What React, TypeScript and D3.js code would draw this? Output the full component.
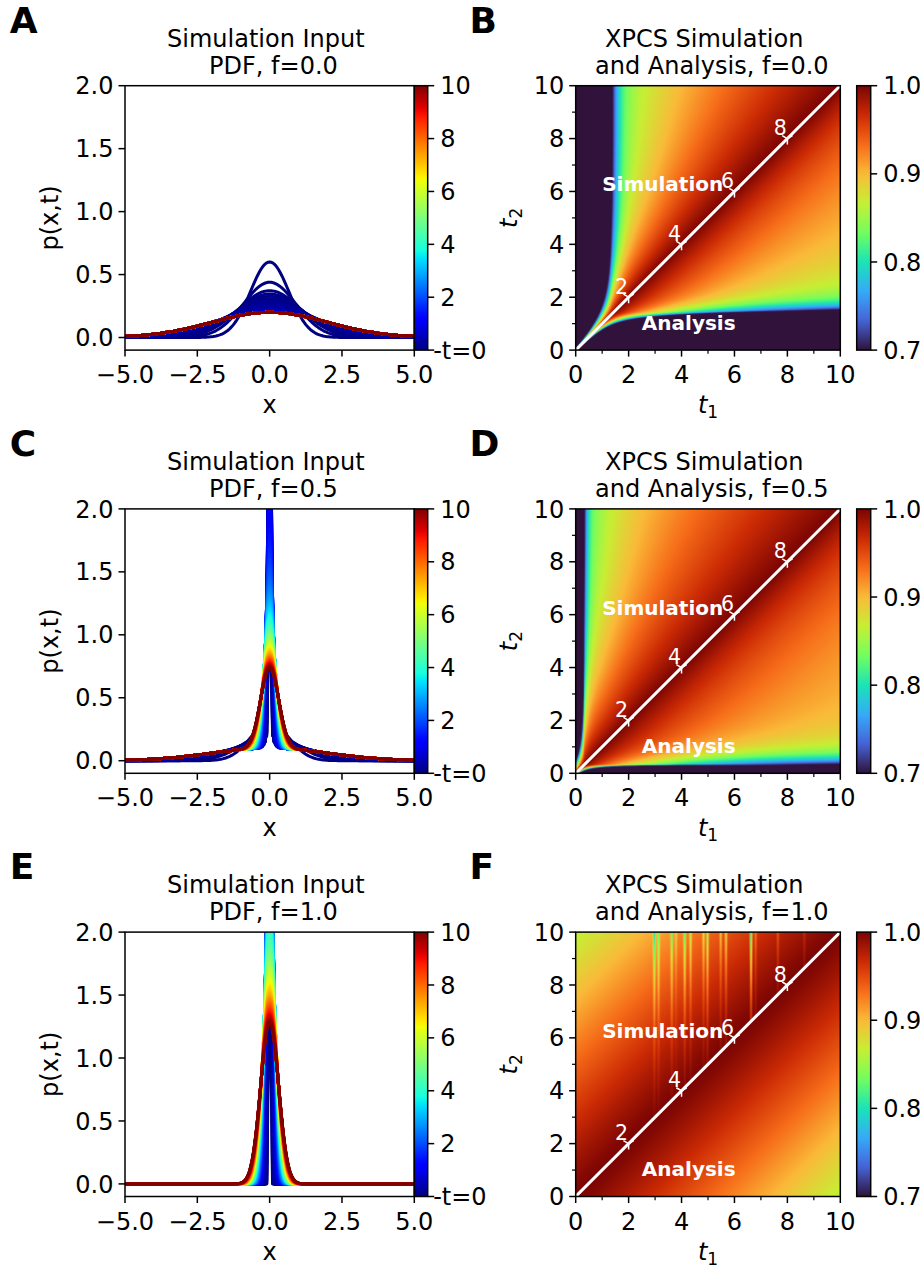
import React, { useMemo } from "react";
import * as d3 from "d3";

// ---------------- data ----------------
const FRACTIONS = [0.0, 0.5, 1.0];
const PDF_LETTERS = ["A", "C", "E"];
const MAP_LETTERS = ["B", "D", "F"];

const PDF_X_TICKS = [-5, -2.5, 0, 2.5, 5];
const PDF_Y_TICKS = [0, 0.5, 1.0, 1.5, 2.0];
const TIME_BAR_TICKS = [0, 2, 4, 6, 8, 10];
const TIME_BAR_LABELS = ["-t=0", "2", "4", "6", "8", "10"];
const MAP_TICKS = [0, 2, 4, 6, 8, 10];
const MAP_MINOR_TICKS = [1, 3, 5, 7, 9];
const CORR_TICKS = [0.7, 0.8, 0.9, 1.0];
const DIAGONAL_MARKS = [2, 4, 6, 8];

// broad (mobile) component: peak height of the Gaussian during the early relaxation
const BROAD_TIMES = [0, 0.02, 0.04, 0.06, 0.08, 0.1, 0.12, 0.15, 0.2, 0.25, 0.3, 0.4, 0.5, 0.6, 0.8];
const BROAD_PEAKS = [0.6, 0.439, 0.372, 0.346, 0.327, 0.309, 0.293, 0.278, 0.262, 0.248, 0.236, 0.222, 0.212, 0.206, 0.202];
const BROAD_PEAK_EQ = 0.2; // equilibrium peak reached after t ~ 1
const LATE_TIMES = d3.range(1, 10.0001, 0.1);
// narrow (trapped) component: variance grows linearly in time
const NARROW_VAR0 = 0.0004;
const NARROW_VAR_RATE = 0.0096;
const X_GRID = d3.range(-5, 5.0001, 0.05);

// two-time correlation model, one entry per row (upper = t2 > t1, lower = t2 < t1)
// 1 - C = M(s) * (1 - exp(-(d/tau)^p)),  s = min(t1,t2), d = |t2 - t1|
type Region = {
  c: number; mInf: number; h: number; w: number; a: number; L: number; k: number; k2: number;
  alpha: number; tau0: number; shift: number; beta: number; p: number;
};
const MAP_UPPER: Region[] = [
  { c: 1.36, mInf: 0.1, h: 0.15, w: 0.25, a: 0.07, L: 2.0, k: 0.97, k2: 0.17, alpha: 0.7, tau0: 0.5, shift: 0, beta: 0, p: 1 },
  { c: 0.33, mInf: 0.105, h: 0.13, w: 0.12, a: 0.08, L: 1.5, k: 4.25, k2: 0, alpha: 0.7, tau0: 2.5, shift: 0, beta: 0, p: 1 },
  { c: 0, mInf: 1, h: 0, w: 1, a: 0, L: 1, k: 0, k2: 0, alpha: 0, tau0: 52, shift: 0, beta: 0, p: 1.16 },
];
const MAP_LOWER: Region[] = [
  { c: 1.42, mInf: 0.115, h: 0.15, w: 0.25, a: 0.07, L: 1.5, k: 1.18, k2: 8.1, alpha: 0, tau0: 3.5, shift: 0, beta: 0.012, p: 1 },
  { c: 0.33, mInf: 0.11, h: 0.17, w: 0.3, a: 0.06, L: 1.0, k: 6.7, k2: 60, alpha: 0, tau0: 3.9, shift: 0, beta: 0, p: 1 },
  { c: 0, mInf: 1, h: 0, w: 1, a: 0, L: 1, k: 0, k2: 0, alpha: 0, tau0: 52, shift: 0, beta: 0, p: 1.16 },
];
// vertical artefact streaks in the f=1.0 simulation half
const STREAK_T1 = [2.97, 3.13, 3.63, 3.79, 4.12, 4.34, 4.83, 4.98, 5.48, 5.68, 6.63, 6.8, 7.64, 8.64];
const STREAK_DEPTH = [0.13, 0.1, 0.11, 0.04, 0.12, 0.08, 0.07, 0.11, 0.06, 0.08, 0.17, 0.04, 0.035, 0.02];
const STREAK_ROWS = [false, false, true];

// ---------------- layout ----------------
const ROW_STEP = 423.2;
const AX_TOP = 85.7;
const AX_BOTTOM = 350.1;
const PDF_X0 = 125;
const PDF_X1 = 414.3;
const TBAR_X0 = 414.3;
const TBAR_X1 = 427.7;
const MAP_X0 = 575.7;
const MAP_X1 = 840.3;
const CBAR_X0 = 856.7;
const CBAR_X1 = 870.7;
const FS = 24;
const FONT = "DejaVu Sans";
const TICK = 6.5;
const MINOR = 3.7;

// ---------------- colour maps ----------------
function seg(pts: number[][], v: number) {
  for (let i = 1; i < pts.length; i++) {
    if (v <= pts[i][0]) {
      const [x0, y0] = pts[i - 1];
      const [x1, y1] = pts[i];
      return y0 + ((v - x0) / (x1 - x0)) * (y1 - y0);
    }
  }
  return pts[pts.length - 1][1];
}
const JET_R = [[0, 0], [0.35, 0], [0.66, 1], [0.89, 1], [1, 0.5]];
const JET_G = [[0, 0], [0.125, 0], [0.375, 1], [0.64, 1], [0.91, 0], [1, 0]];
const JET_B = [[0, 0.5], [0.11, 1], [0.34, 1], [0.65, 0], [1, 0]];
function jet(v: number) {
  const t = Math.max(0, Math.min(1, v));
  return d3.rgb(255 * seg(JET_R, t), 255 * seg(JET_G, t), 255 * seg(JET_B, t)).formatHex();
}
const TURBO_ANCHORS = ["#30123b", "#4662d7", "#36aaf9", "#1ae4b6", "#72fe5e", "#c7ef34", "#faba39", "#f66b19", "#cb2a04", "#7a0403"];
const turbo = d3
  .scaleLinear<string>()
  .domain(TURBO_ANCHORS.map((_, i) => i / (TURBO_ANCHORS.length - 1)))
  .range(TURBO_ANCHORS)
  .interpolate(d3.interpolateRgb)
  .clamp(true);
const TURBO_LUT = d3.range(256).map((i) => d3.rgb(turbo(i / 255)));

// ---------------- models ----------------
function gaussian(x: number, v: number) {
  return Math.exp((-x * x) / (2 * v)) / Math.sqrt(2 * Math.PI * v);
}
const TIME_STEPS = [
  ...BROAD_TIMES.map((t, i) => ({ t, broadPeak: BROAD_PEAKS[i] })),
  ...LATE_TIMES.map((t) => ({ t, broadPeak: BROAD_PEAK_EQ })),
];
function pdfValue(x: number, t: number, broadPeak: number, f: number) {
  const vb = 1 / (2 * Math.PI * broadPeak * broadPeak);
  const vn = NARROW_VAR0 + NARROW_VAR_RATE * t;
  return (1 - f) * gaussian(x, vb) + f * gaussian(x, vn);
}

function corrValue(t1: number, t2: number, row: number) {
  const upper = t2 >= t1;
  const q = upper ? MAP_UPPER[row] : MAP_LOWER[row];
  const s = Math.min(t1, t2);
  const d = Math.abs(t2 - t1);
  const se = s + q.shift - q.beta * d;
  let m: number;
  if (se >= q.c) {
    m = q.mInf + q.h * Math.exp(-(se - q.c) / q.w) + q.a * Math.exp(-(se - q.c) / q.L);
  } else {
    const u = q.c - se;
    m = q.mInf + q.h + q.a + q.k * u + q.k2 * u * u;
  }
  const tau = q.alpha * s + q.tau0;
  let v = 1 - m * (1 - Math.exp(-Math.pow(d / tau, q.p)));
  if (upper && STREAK_ROWS[row]) {
    for (let i = 0; i < STREAK_T1.length; i++) {
      const dx = (t1 - STREAK_T1[i]) / 0.04;
      if (Math.abs(dx) < 4) {
        v -= STREAK_DEPTH[i] * Math.exp(-dx * dx) * Math.exp(-(10 - t2) / 2.3);
      }
    }
  }
  return v;
}

function corrImage(row: number, n: number) {
  const canvas = document.createElement("canvas");
  canvas.width = n;
  canvas.height = n;
  const ctx = canvas.getContext("2d");
  if (!ctx) return "";
  const img = ctx.createImageData(n, n);
  for (let j = 0; j < n; j++) {
    const t2 = 10 * (1 - (j + 0.5) / n);
    for (let i = 0; i < n; i++) {
      const t1 = (10 * (i + 0.5)) / n;
      const v = corrValue(t1, t2, row);
      const u = Math.max(0, Math.min(1, (v - 0.7) / 0.3));
      const c = TURBO_LUT[Math.round(u * 255)];
      const k = 4 * (j * n + i);
      img.data[k] = c.r;
      img.data[k + 1] = c.g;
      img.data[k + 2] = c.b;
      img.data[k + 3] = 255;
    }
  }
  ctx.putImageData(img, 0, 0);
  return canvas.toDataURL("image/png");
}

// ---------------- panels ----------------
function PdfPanel({ row }: { row: number }) {
  const f = FRACTIONS[row];
  const oy = row * ROW_STEP;
  const y0 = AX_TOP + oy;
  const y1 = AX_BOTTOM + oy;
  const x = d3.scaleLinear().domain([-5, 5]).range([PDF_X0, PDF_X1]);
  const y = d3.scaleLinear().domain([-0.1, 2.0]).range([y1, y0]);
  const tb = d3.scaleLinear().domain([0, 10]).range([y1, y0]);
  const curves = useMemo(
    () =>
      TIME_STEPS.map(({ t, broadPeak }) => {
        const l = d3
          .line<number>()
          .x((xx) => x(xx))
          .y((xx) => y(Math.min(pdfValue(xx, t, broadPeak, f), 50)));
        return { t, d: l(X_GRID) || "" };
      }),
    [row]
  );
  const clipId = `pdfclip${row}`;
  const gradId = `jetgrad${row}`;
  const fmt = d3.format(".1f");
  const cx = (PDF_X0 + PDF_X1) / 2;
  return (
    <g>
      <text x={9.7} y={33 + oy} fontSize={36} fontWeight="bold">{PDF_LETTERS[row]}</text>
      <text x={cx - 3.8} y={46.7 + oy} fontSize={FS} textAnchor="middle">Simulation Input</text>
      <text x={cx + 3.8} y={73.5 + oy} fontSize={FS} textAnchor="middle">{`PDF, f=${f.toFixed(1)}`}</text>
      <defs>
        <clipPath id={clipId}>
          <rect x={PDF_X0} y={y0} width={PDF_X1 - PDF_X0} height={y1 - y0} />
        </clipPath>
        <linearGradient id={gradId} x1="0" y1="1" x2="0" y2="0">
          {d3.range(0, 1.0001, 0.02).map((v) => (
            <stop key={v} offset={v} stopColor={jet(v)} />
          ))}
        </linearGradient>
      </defs>
      <g clipPath={`url(#${clipId})`}>
        {curves.map((c) => (
          <path key={c.t} d={c.d} fill="none" stroke={jet(c.t / 10)} strokeWidth={3} strokeLinejoin="round" />
        ))}
      </g>
      <rect x={PDF_X0} y={y0} width={PDF_X1 - PDF_X0} height={y1 - y0} fill="none" stroke="#000" strokeWidth={1.5} />
      {PDF_X_TICKS.map((v) => (
        <g key={v}>
          <line x1={x(v)} x2={x(v)} y1={y1} y2={y1 + TICK} stroke="#000" strokeWidth={1.5} />
          <text x={x(v)} y={y1 + 33} fontSize={FS} textAnchor="middle">{fmt(v)}</text>
        </g>
      ))}
      {PDF_Y_TICKS.map((v) => (
        <g key={v}>
          <line x1={PDF_X0 - TICK} x2={PDF_X0} y1={y(v)} y2={y(v)} stroke="#000" strokeWidth={1.5} />
          <text x={PDF_X0 - 11.5} y={y(v) + 8.6} fontSize={FS} textAnchor="end">{fmt(v)}</text>
        </g>
      ))}
      <text x={(PDF_X0 + PDF_X1) / 2} y={y1 + 63} fontSize={FS} textAnchor="middle">x</text>
      <text transform={`translate(${PDF_X0 - 67},${(y0 + y1) / 2}) rotate(-90)`} fontSize={FS} textAnchor="middle">p(x,t)</text>
      {/* time colour bar */}
      <rect x={TBAR_X0} y={y0} width={TBAR_X1 - TBAR_X0} height={y1 - y0} fill={`url(#${gradId})`} stroke="#000" strokeWidth={1.5} />
      {TIME_BAR_TICKS.map((v, i) => (
        <g key={v}>
          <line x1={TBAR_X1} x2={TBAR_X1 + TICK} y1={tb(v)} y2={tb(v)} stroke="#000" strokeWidth={1.5} />
          <text x={v === 0 ? TBAR_X1 + 5.5 : TBAR_X1 + 12.5} y={tb(v) + 8.6} fontSize={FS}>{TIME_BAR_LABELS[i]}</text>
        </g>
      ))}
    </g>
  );
}

function CorrPanel({ row }: { row: number }) {
  const f = FRACTIONS[row];
  const oy = row * ROW_STEP;
  const y0 = AX_TOP + oy;
  const y1 = AX_BOTTOM + oy;
  const x = d3.scaleLinear().domain([0, 10]).range([MAP_X0, MAP_X1]);
  const y = d3.scaleLinear().domain([0, 10]).range([y1, y0]);
  const cb = d3.scaleLinear().domain([0.7, 1.0]).range([y1, y0]);
  const url = useMemo(() => corrImage(row, 530), [row]);
  const clipId = `mapclip${row}`;
  const gradId = `turbograd${row}`;
  const cx = (MAP_X0 + MAP_X1) / 2;
  const r = 6;
  return (
    <g>
      <text x={469.5} y={33 + oy} fontSize={36} fontWeight="bold">{MAP_LETTERS[row]}</text>
      <text x={cx - 3.8} y={46.7 + oy} fontSize={FS} textAnchor="middle">XPCS Simulation</text>
      <text x={cx + 3.8} y={73.5 + oy} fontSize={FS} textAnchor="middle">{`and Analysis, f=${f.toFixed(1)}`}</text>
      <defs>
        <clipPath id={clipId}>
          <rect x={MAP_X0} y={y0} width={MAP_X1 - MAP_X0} height={y1 - y0} />
        </clipPath>
        <linearGradient id={gradId} x1="0" y1="1" x2="0" y2="0">
          {d3.range(0, 1.0001, 0.02).map((v) => (
            <stop key={v} offset={v} stopColor={turbo(v)} />
          ))}
        </linearGradient>
      </defs>
      <image href={url} x={MAP_X0} y={y0} width={MAP_X1 - MAP_X0} height={y1 - y0} preserveAspectRatio="none" />
      <g clipPath={`url(#${clipId})`}>
        <line x1={x(0)} y1={y(0)} x2={x(10)} y2={y(10)} stroke="#fff" strokeWidth={3} strokeLinecap="square" />
        {DIAGONAL_MARKS.map((v) => (
          <g key={v} stroke="#fff" strokeWidth={1.5}>
            <line x1={x(v)} y1={y(v)} x2={x(v)} y2={y(v) + r} />
            <line x1={x(v)} y1={y(v)} x2={x(v) - 0.866 * r} y2={y(v) - 0.5 * r} />
            <line x1={x(v)} y1={y(v)} x2={x(v) + 0.866 * r} y2={y(v) - 0.5 * r} />
          </g>
        ))}
      </g>
      {DIAGONAL_MARKS.map((v) => (
        <text key={v} x={x(v) - 0.5} y={y(v) - 3.3} fontSize={20.5} fill="#fff" textAnchor="end">{v}</text>
      ))}
      <text x={x(1.0)} y={y(6.0)} fontSize={20} fontWeight="bold" fill="#fff">Simulation</text>
      <text x={x(2.5)} y={y(0.757)} fontSize={20} fontWeight="bold" fill="#fff">Analysis</text>
      <rect x={MAP_X0} y={y0} width={MAP_X1 - MAP_X0} height={y1 - y0} fill="none" stroke="#000" strokeWidth={1.5} />
      {MAP_TICKS.map((v) => (
        <g key={v}>
          <line x1={x(v)} x2={x(v)} y1={y1} y2={y1 + TICK} stroke="#000" strokeWidth={1.5} />
          <text x={x(v)} y={y1 + 33} fontSize={FS} textAnchor="middle">{v}</text>
          <line x1={MAP_X0 - TICK} x2={MAP_X0} y1={y(v)} y2={y(v)} stroke="#000" strokeWidth={1.5} />
          <text x={MAP_X0 - 11.5} y={y(v) + 8.6} fontSize={FS} textAnchor="end">{v}</text>
        </g>
      ))}
      {MAP_MINOR_TICKS.map((v) => (
        <g key={v}>
          <line x1={x(v)} x2={x(v)} y1={y1} y2={y1 + MINOR} stroke="#000" strokeWidth={1.2} />
          <line x1={MAP_X0 - MINOR} x2={MAP_X0} y1={y(v)} y2={y(v)} stroke="#000" strokeWidth={1.2} />
        </g>
      ))}
      <text x={cx} y={y1 + 63} fontSize={FS} textAnchor="middle">
        <tspan fontStyle="italic">t</tspan>
        <tspan fontSize={17} dy={5}>1</tspan>
      </text>
      <text transform={`translate(${MAP_X0 - 59},${(y0 + y1) / 2}) rotate(-90)`} fontSize={FS} textAnchor="middle">
        <tspan fontStyle="italic">t</tspan>
        <tspan fontSize={17} dy={5}>2</tspan>
      </text>
      {/* correlation colour bar */}
      <rect x={CBAR_X0} y={y0} width={CBAR_X1 - CBAR_X0} height={y1 - y0} fill={`url(#${gradId})`} stroke="#000" strokeWidth={1.5} />
      {CORR_TICKS.map((v) => (
        <g key={v}>
          <line x1={CBAR_X1} x2={CBAR_X1 + TICK} y1={cb(v)} y2={cb(v)} stroke="#000" strokeWidth={1.5} />
          <text x={CBAR_X1 + 12.5} y={cb(v) + 8.6} fontSize={FS}>{v.toFixed(1)}</text>
        </g>
      ))}
    </g>
  );
}

export default function App() {
  return (
    <svg
      width={920}
      height={1268}
      viewBox="0 0 920 1268"
      fontFamily={FONT}
      style={{ position: "absolute", left: 0, top: 0, display: "block", background: "#fff" }}
    >
      <rect x={0} y={0} width={920} height={1268} fill="#fff" />
      {FRACTIONS.map((_, row) => (
        <g key={row}>
          <PdfPanel row={row} />
          <CorrPanel row={row} />
        </g>
      ))}
    </svg>
  );
}
